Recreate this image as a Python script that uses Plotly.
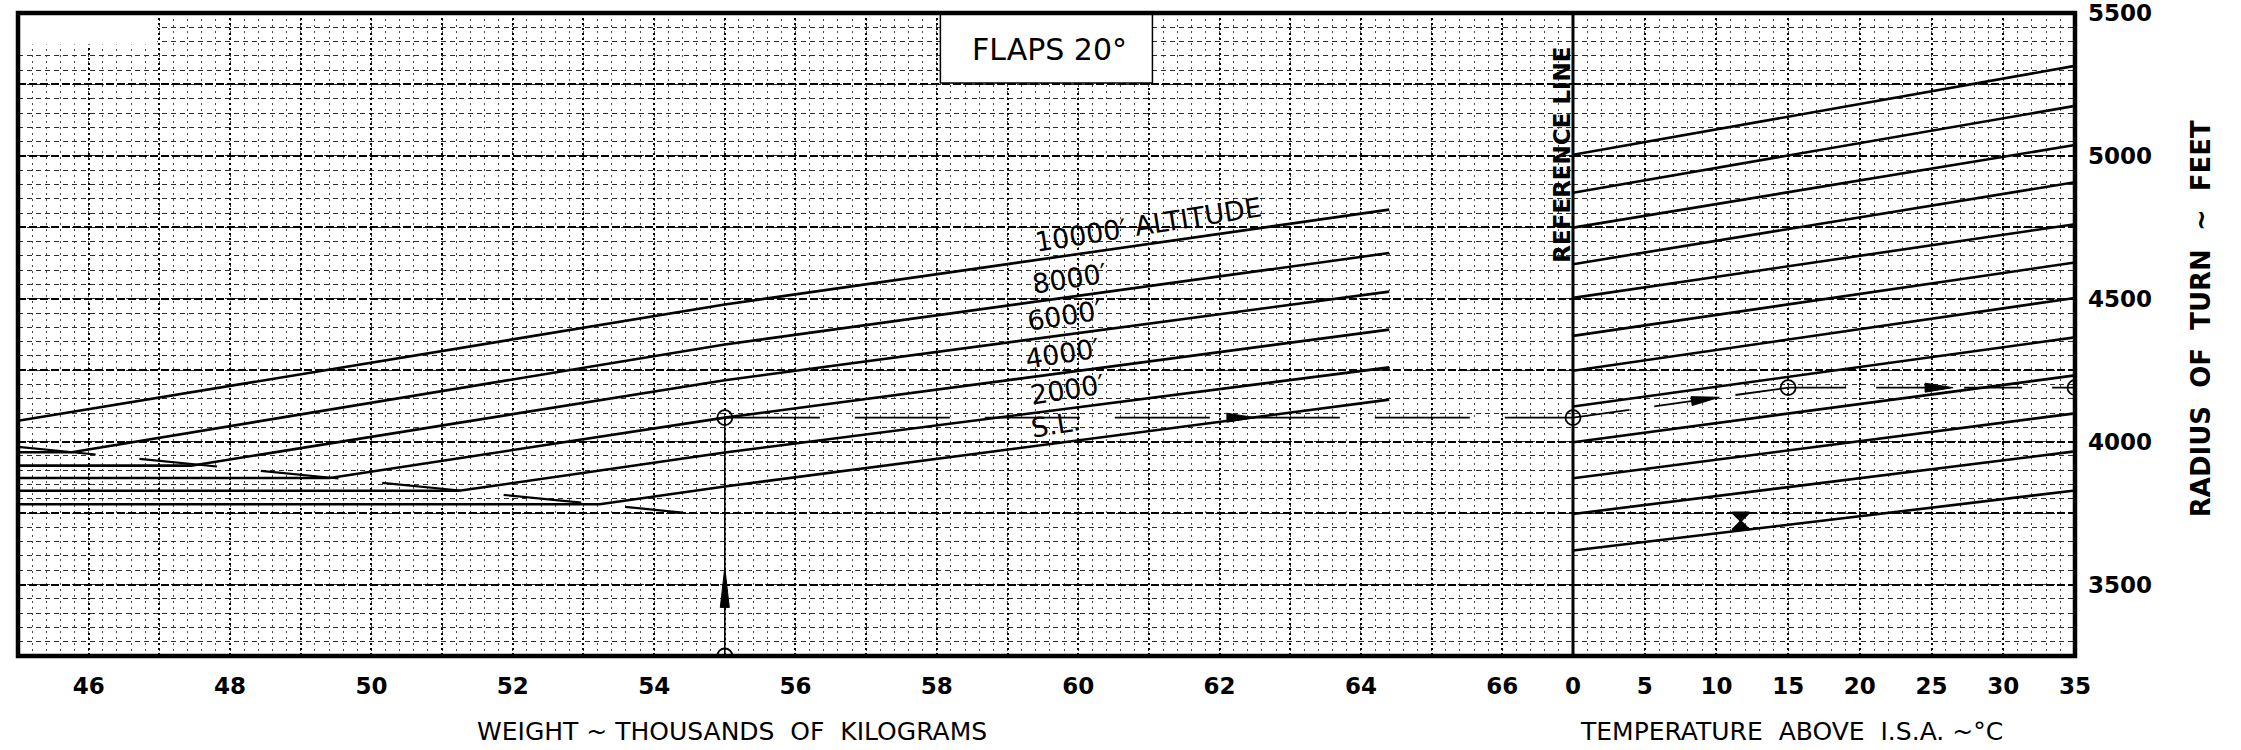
import math
import plotly.graph_objects as go

# ---------------- data ----------------
WEIGHT_TICKS = [46, 48, 50, 52, 54, 56, 58, 60, 62, 64, 66]      # thousands of kg
TEMP_TICKS = [0, 5, 10, 15, 20, 25, 30, 35]                       # deg C above ISA
RADIUS_TICKS = [3500, 4000, 4500, 5000, 5500]                     # feet

ALT_NAMES = ["S.L.", "2000′", "4000′", "6000′", "8000′", "10000′ ALTITUDE"]

# radius of turn vs weight, one polyline per altitude
SL_W = [45.0, 53.23, 55.0, 64.4]
SL_R = [3781, 3781, 3843, 4147]
A2000_W = [45.0, 51.24, 55.0, 64.4]
A2000_R = [3828, 3828, 3962, 4260]
A4000_W = [45.0, 49.41, 55.0, 64.4]
A4000_R = [3873, 3873, 4084, 4392]
A6000_W = [45.0, 47.45, 55.0, 64.4]
A6000_R = [3916, 3916, 4215, 4525]
A8000_W = [45.0, 45.76, 55.0, 64.4]
A8000_R = [3963, 3963, 4340, 4660]
A10000_W = [45.0, 55.0, 64.4]
A10000_R = [4073, 4480, 4812]

# dashed limit line through the knees of the curves
LIMIT_W = [45.0, 54.4]
LIMIT_R = [3982, 3752]

# temperature correction guide lines (radius at 0 and 35 deg C)
GUIDE_T = [0, 35]
GUIDE_R_0 = [5004, 4871, 4749, 4621, 4503, 4370, 4248, 4123, 3998, 3872, 3747, 3619]
GUIDE_R_35 = [5315, 5175, 5038, 4908, 4761, 4627, 4503, 4365, 4232, 4099, 3966, 3829]

# worked example
EX_WEIGHT = 55.0
EX_R_REF = 4084                  # radius at the reference line (4000 ft curve)
EX_TEMP = 15
EX_R_FINAL = 4189

X_MIN, X_MAX = 45.0, 67.0
T_MIN, T_MAX = 0, 35
R_MIN, R_MAX = 3250, 5500

# ---------------- figure ----------------
INK = "black"
SPLIT = 0.75595
FONT = "DejaVu Sans"
W, H = 2241, 750
M_L, M_R, M_T, M_B = 18, 166, 13, 94
PLOT_W = W - M_L - M_R
PLOT_H = H - M_T - M_B

fig = go.Figure()

alt_w = [SL_W, A2000_W, A4000_W, A6000_W, A8000_W, A10000_W]
alt_r = [SL_R, A2000_R, A4000_R, A6000_R, A8000_R, A10000_R]

for w, r in zip(alt_w, alt_r):
    fig.add_trace(go.Scatter(x=w, y=r, mode="lines", xaxis="x", yaxis="y",
                             line=dict(color=INK, width=2.6), hoverinfo="skip"))

fig.add_trace(go.Scatter(x=LIMIT_W, y=LIMIT_R, mode="lines", xaxis="x", yaxis="y",
                         line=dict(color=INK, width=2.2, dash="78px,44px"), hoverinfo="skip"))

for r0, r35 in zip(GUIDE_R_0, GUIDE_R_35):
    fig.add_trace(go.Scatter(x=GUIDE_T, y=[r0, r35], mode="lines", xaxis="x2", yaxis="y2",
                             line=dict(color=INK, width=2.6), hoverinfo="skip"))

# example path
fig.add_trace(go.Scatter(x=[EX_WEIGHT, EX_WEIGHT], y=[R_MIN, EX_R_REF], mode="lines",
                         xaxis="x", yaxis="y", line=dict(color=INK, width=1.6), hoverinfo="skip"))
fig.add_trace(go.Scatter(x=[EX_WEIGHT, X_MAX], y=[EX_R_REF, EX_R_REF], mode="lines",
                         xaxis="x", yaxis="y", line=dict(color=INK, width=1.8, dash="95px,35px"),
                         hoverinfo="skip"))
fig.add_trace(go.Scatter(x=[T_MIN, EX_TEMP], y=[EX_R_REF, EX_R_FINAL], mode="lines",
                         xaxis="x2", yaxis="y2", line=dict(color=INK, width=1.8, dash="57px,25px"),
                         hoverinfo="skip"))
fig.add_trace(go.Scatter(x=[EX_TEMP, T_MAX], y=[EX_R_FINAL, EX_R_FINAL], mode="lines",
                         xaxis="x2", yaxis="y2", line=dict(color=INK, width=1.8, dash="58px,30px"),
                         hoverinfo="skip"))

ring = dict(symbol="circle-open", size=15, color=INK, line=dict(width=1.8, color=INK))
fig.add_trace(go.Scatter(x=[EX_WEIGHT, EX_WEIGHT], y=[R_MIN, EX_R_REF], mode="markers",
                         xaxis="x", yaxis="y", marker=ring, hoverinfo="skip"))
fig.add_trace(go.Scatter(x=[T_MIN], y=[EX_R_REF], mode="markers", xaxis="x2", yaxis="y2",
                         marker=ring, cliponaxis=False, hoverinfo="skip"))
fig.add_trace(go.Scatter(x=[EX_TEMP, T_MAX], y=[EX_R_FINAL, EX_R_FINAL], mode="markers",
                         xaxis="x2", yaxis="y2", marker=ring, hoverinfo="skip"))

# ink blot on the temperature panel
fig.add_trace(go.Scatter(x=[11.7], y=[3722], mode="markers", xaxis="x2", yaxis="y2",
                         marker=dict(symbol="hourglass", size=17, color=INK,
                                     line=dict(width=2, color=INK)),
                         hoverinfo="skip"))

# ---------------- axes ----------------
hgrid_major = dict(showgrid=True, gridcolor="#000000", gridwidth=1.6, griddash="8px,3px")
hgrid_minor = dict(showgrid=True, gridcolor="#2e2e2e", gridwidth=1.2, griddash="5px,4px")
vgrid_major = dict(showgrid=True, gridcolor="#000000", gridwidth=2.0, griddash="2px,3px")
vgrid_minor = dict(showgrid=True, gridcolor="#4a4a4a", gridwidth=1.2, griddash="2px,4px")

tickfont = dict(family=FONT, size=23, color=INK, weight="bold")

w_vals = list(range(int(X_MIN), int(X_MAX) + 1))
w_text = [str(v) if v in WEIGHT_TICKS else "" for v in w_vals]
t_vals = list(range(T_MIN, T_MAX + 1, 5))
t_text = [str(v) if v in TEMP_TICKS else "" for v in t_vals]
r_vals = list(range(R_MIN, R_MAX + 1, 250))
r_text = [str(v) if v in RADIUS_TICKS else "" for v in r_vals]

fig.update_layout(
    width=W, height=H,
    margin=dict(l=M_L, r=M_R, t=M_T, b=M_B, autoexpand=False),
    paper_bgcolor="white", plot_bgcolor="white",
    showlegend=False,
    xaxis=dict(domain=[0, SPLIT], range=[X_MIN, X_MAX], anchor="y", automargin=False,
               tickmode="array", tickvals=w_vals, ticktext=w_text,
               ticks="", ticklabelstandoff=14, tickfont=tickfont,
               zeroline=False, showline=False, **vgrid_major,
               minor=dict(tickmode="linear", tick0=X_MIN, dtick=0.2, ticks="", **vgrid_minor)),
    xaxis2=dict(domain=[SPLIT, 1], range=[T_MIN, T_MAX], anchor="y2", automargin=False,
                tickmode="array", tickvals=t_vals, ticktext=t_text,
                ticks="", ticklabelstandoff=14, tickfont=tickfont,
                zeroline=False, showline=False, **vgrid_major,
                minor=dict(tickmode="linear", tick0=0, dtick=1, ticks="", **vgrid_minor)),
    yaxis=dict(domain=[0, 1], range=[R_MIN, R_MAX], anchor="x", automargin=False,
               tickmode="array", tickvals=r_vals, showticklabels=False, ticks="",
               zeroline=False, showline=False, **hgrid_major,
               minor=dict(tickmode="linear", tick0=R_MIN, dtick=50, ticks="", **hgrid_minor)),
    yaxis2=dict(domain=[0, 1], range=[R_MIN, R_MAX], anchor="x2", matches="y", side="right",
                automargin=False,
                tickmode="array", tickvals=r_vals, ticktext=r_text,
                ticks="", ticklabelstandoff=12, tickfont=tickfont,
                zeroline=False, showline=False, **hgrid_major,
                minor=dict(tickmode="linear", tick0=R_MIN, dtick=50, ticks="", **hgrid_minor)),
)


# ---------------- arrow heads (pixel-sized paths anchored in data space) ----------------
def arrow_head(xref, yref, x, y, angle_deg, length, half_w):
    a = math.radians(angle_deg)
    ux, uy = math.cos(a), math.sin(a)
    px, py = -uy, ux
    bx, by = -length * ux, -length * uy
    pts = [(0, 0), (bx + half_w * px, by + half_w * py), (bx - half_w * px, by - half_w * py)]
    path = "M{:.2f},{:.2f} L{:.2f},{:.2f} L{:.2f},{:.2f} Z".format(*[c for p in pts for c in p])
    return dict(type="path", xref=xref, yref=yref, xsizemode="pixel", ysizemode="pixel",
                xanchor=x, yanchor=y, path=path, fillcolor=INK,
                line=dict(color=INK, width=1), layer="above")


px_per_t = PLOT_W * (1 - SPLIT) / (T_MAX - T_MIN)
px_per_r = PLOT_H / (R_MAX - R_MIN)
slope = (EX_R_FINAL - EX_R_REF) / EX_TEMP
slope_deg = math.degrees(math.atan2(slope * px_per_r, px_per_t))

heads = [
    arrow_head("x", "y", EX_WEIGHT, 3560, 90, 40, 4.5),
    arrow_head("x", "y", 62.5, EX_R_REF, 0, 28, 4.5),
    arrow_head("x2", "y2", 10.2, EX_R_REF + slope * 10.2, slope_deg, 28, 4.5),
    arrow_head("x2", "y2", 26.5, EX_R_FINAL, 0, 28, 4.5),
]

# ---------------- shapes ----------------
shapes = [
    # blank patch in the top-left corner of the grid
    dict(type="rect", xref="x", yref="y", x0=X_MIN, x1=46.97, y0=5390, y1=R_MAX,
         fillcolor="white", line=dict(width=0), layer="between"),
    # title box
    dict(type="rect", xref="x", yref="y", x0=58.05, x1=61.05, y0=5255, y1=R_MAX,
         fillcolor="white", line=dict(color=INK, width=1.5), layer="between"),
    # reference line
    dict(type="line", xref="paper", yref="paper", x0=SPLIT, x1=SPLIT, y0=0, y1=1,
         line=dict(color=INK, width=3), layer="above"),
    # frame
    dict(type="rect", xref="paper", yref="paper", x0=0, x1=1, y0=0, y1=1,
         line=dict(color=INK, width=4.5), layer="above"),
] + heads
fig.update_layout(shapes=shapes)

# ---------------- annotations ----------------
ann = []

ann.append(dict(text="FLAPS 20°", x=59.6, y=5372, xref="x", yref="y", showarrow=False,
                xanchor="center", yanchor="middle",
                font=dict(family=FONT, size=30, color=INK)))

ann.append(dict(text="REFERENCE LINE", x=66.84, y=5003, xref="x", yref="y", showarrow=False,
                xanchor="center", yanchor="middle", textangle=-90,
                font=dict(family=FONT, size=23, color=INK, weight="bold")))

# altitude labels, sitting just above their curves
label_w = [59.68, 59.85, 59.78, 59.81, 59.88, 61.0]


def interp(x, xs, ys):
    for i in range(len(xs) - 1):
        if xs[i] <= x <= xs[i + 1]:
            f = (x - xs[i]) / (xs[i + 1] - xs[i])
            return ys[i] + f * (ys[i + 1] - ys[i])
    return ys[-1]


for name, lw, w, r in zip(ALT_NAMES, label_w, alt_w, alt_r):
    ann.append(dict(text=name, x=lw, y=interp(lw, w, r), xref="x", yref="y",
                    showarrow=False, textangle=-9, yshift=19,
                    xanchor="center", yanchor="middle",
                    font=dict(family=FONT, size=27, color=INK)))

# axis titles
title_font = dict(family=FONT, size=25, color=INK)
ann.append(dict(text="WEIGHT ~ THOUSANDS  OF  KILOGRAMS", x=0.347, y=-0.118,
                xref="paper", yref="paper", showarrow=False,
                xanchor="center", yanchor="middle", font=title_font))
ann.append(dict(text="TEMPERATURE  ABOVE  I.S.A. ~°C", x=0.862, y=-0.118,
                xref="paper", yref="paper", showarrow=False,
                xanchor="center", yanchor="middle", font=title_font))
ann.append(dict(text="RADIUS  OF  TURN  ~  FEET", x=1.0613, y=0.524,
                xref="paper", yref="paper", showarrow=False, textangle=-90,
                xanchor="center", yanchor="middle",
                font=dict(family=FONT, size=26, color=INK, weight="bold")))

fig.update_layout(annotations=ann)

fig.write_html("out.html")
